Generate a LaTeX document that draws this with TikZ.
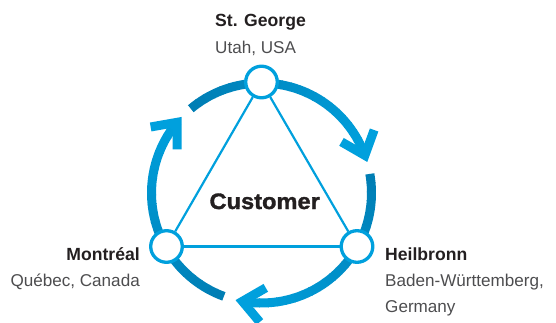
\documentclass[tikz,border=0pt]{standalone}
\usepackage{fontspec}
\setmainfont{Liberation Sans}
\newfontfamily\heavyfont{Liberation Sans Bold}[FakeBold=1.5,FakeStretch=1.06]
\usetikzlibrary{calc}
\definecolor{ringdark}{RGB}{0,126,180}
\definecolor{ringlight}{RGB}{0,160,221}
\definecolor{labeldark}{RGB}{35,31,32}
\definecolor{labelgray}{RGB}{77,77,79}
\begin{document}
\begin{tikzpicture}[x=1pt,y=1pt,
  site/.style={circle, draw=ringlight, line width=3.3pt, fill=white, minimum size=31.6pt, inner sep=0pt},
  tri/.style={draw=ringlight, line width=2.2pt},
  title/.style={font=\fontsize{17.6}{20}\selectfont\bfseries, text=labeldark, inner sep=0pt},
  sub/.style={font=\fontsize{17.1}{20}\selectfont, text=labelgray, inner sep=0pt},
  chevron/.style={draw=ringlight, line width=9pt, line join=miter, line cap=butt, miter limit=10}]
\useasboundingbox (0,0) rectangle (556,322);
\coordinate (C) at (261.5,129);
% ring segments with gradient and chevron heads
\foreach \s/\e in {130/20, 10/-100, -110/-220} {
  \foreach \i in {0,...,23} {
    \pgfmathsetmacro\aa{\s+(\e-\s)*\i/24}
    \pgfmathsetmacro\ab{\s+(\e-\s)*(\i+1)/24-0.4}
    \pgfmathsetmacro\p{100*\i/23}
    \draw[line width=9pt, color=ringlight!\p!ringdark] ($(C)+(\aa:110)$) arc[start angle=\aa, end angle=\ab, radius=110];
  }
  \pgfmathsetmacro\armA{\e+90+40}
  \pgfmathsetmacro\armB{\e+90-40}
  \coordinate (tip) at ($(C)+(\e:110)$);
  \draw[chevron] ($(tip)+(\armA:27)$) -- (tip) -- ($(tip)+(\armB:27)$);
}
% sites
\node[site] (top) at (261.5,240) {};
\node[site] (left) at (166.5,75.5) {};
\node[site] (right) at (357,75.5) {};
\draw[tri] (top) -- (left);
\draw[tri] (left) -- (right);
\draw[tri] (right) -- (top);
% labels
\node[font=\heavyfont\fontsize{22.3}{24}\selectfont, text=labeldark, inner sep=0pt, anchor=base] (cust) at (264.7,113) {Customer};
\node[title, anchor=base west] (sgname) at (215,295.3) {St. George};
\node[sub, anchor=base west] (sgsub) at (215,269) {Utah, USA};
\node[title, anchor=base east] (mtname) at (140,62) {Montréal};
\node[sub, anchor=base east] (mtsub) at (140,35.5) {Québec, Canada};
\node[title, anchor=base west] (hbname) at (385,62) {Heilbronn};
\node[sub, anchor=base west] (hbsub) at (385,36) {Baden-Württemberg,};
\node[sub, anchor=base west] (hbsub2) at (385,10) {Germany};
\end{tikzpicture}
\end{document}
